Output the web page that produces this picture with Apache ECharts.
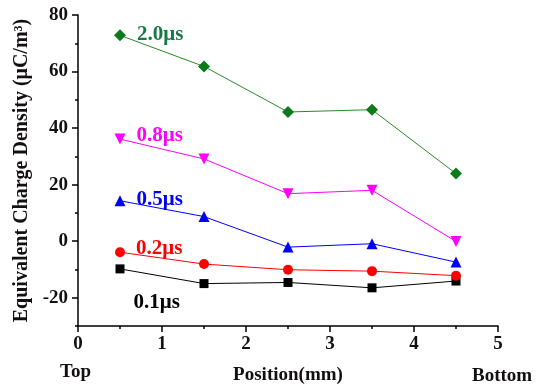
<!DOCTYPE html>
<html><head><meta charset="utf-8">
<script src="https://cdn.jsdelivr.net/npm/echarts@6/dist/echarts.min.js"></script>
<style>html,body{margin:0;padding:0;background:#fff}#c{width:547px;height:390px}</style>
</head><body><div id="c"></div>
<script>
const positions = [0.5, 1.5, 2.5, 3.5, 4.5];
const s01 = [-9.8, -15.0, -14.6, -16.5, -14.1];
const s02 = [-3.9, -8.1, -10.1, -10.6, -12.2];
const s05 = [14.3, 8.7, -2.1, -0.9, -7.4];
const s08 = [36.1, 29.1, 16.8, 18.0, -0.1];
const s20 = [72.8, 61.8, 45.7, 46.5, 23.9];
const seriesNames = ['0.1μs', '0.2μs', '0.5μs', '0.8μs', '2.0μs'];
const xTicks = [0, 1, 2, 3, 4, 5];
const yMajor = [-20, 0, 20, 40, 60, 80];
const yMinor = [-30, -10, 10, 30, 50, 70];

const FONT = '"Liberation Serif", "Times New Roman", serif';
const TXT = '#141010';

function mk(name, vals, lineColor, markColor, labelColor, symbol, size, off) {
  return {
    type: 'line', name: name, xAxisIndex: 0, yAxisIndex: 0,
    symbol: symbol, symbolSize: size,
    lineStyle: { color: lineColor, width: 1 },
    itemStyle: { color: markColor },
    emphasis: { disabled: true },
    data: vals.map((v, i) => i === 0 ? {
      value: [positions[i], v],
      label: { show: true, formatter: name, position: 'right', distance: 0, offset: off,
        color: labelColor, fontFamily: FONT, fontWeight: 'bold', fontSize: 21 }
    } : [positions[i], v])
  };
}

const chart = echarts.init(document.getElementById('c'), null, { renderer: 'canvas' });
chart.setOption({
  animation: false,
  backgroundColor: '#fff',
  grid: { left: 78, right: 49, top: 15, bottom: 62, containLabel: false },
  xAxis: {
    type: 'value', min: 0, max: 5, interval: 1,
    axisLine: { onZero: false, lineStyle: { color: '#000', width: 1.5 } },
    axisTick: { length: 6, lineStyle: { color: '#000', width: 1.5 } },
    minorTick: { show: true, splitNumber: 2, length: 3, lineStyle: { color: '#000', width: 1.5 } },
    splitLine: { show: false },
    axisLabel: { margin: 9, color: TXT, fontFamily: FONT, fontWeight: 'bold', fontSize: 19 },
    name: 'Position(mm)', nameLocation: 'middle', nameGap: 40,
    nameTextStyle: { color: TXT, fontFamily: FONT, fontWeight: 'bold', fontSize: 19 }
  },
  yAxis: [{
    type: 'value', min: -30, max: 80, position: 'left',
    axisLine: { show: true, onZero: false, lineStyle: { color: '#000', width: 1.5 } },
    axisTick: { show: true, length: 6, customValues: yMajor, lineStyle: { color: '#000', width: 1.5 } },
    splitLine: { show: false },
    axisLabel: { margin: 10, customValues: yMajor, color: TXT, fontFamily: FONT, fontWeight: 'bold', fontSize: 19 },
    name: 'Equivalent Charge Density (μC/m³)', nameLocation: 'middle', nameGap: 40, nameRotate: 90,
    nameTextStyle: { color: TXT, fontFamily: FONT, fontWeight: 'bold', fontSize: 20 }
  }, {
    type: 'value', min: -30, max: 80, position: 'left', offset: 0,
    axisLine: { show: false, onZero: false },
    axisTick: { show: true, length: 3, customValues: yMinor, lineStyle: { color: '#000', width: 1.5 } },
    splitLine: { show: false },
    axisLabel: { show: false }
  }],
  graphic: [
    { type: 'text', left: 60, top: 363, style: { text: 'Top', fill: TXT, font: 'bold 19px ' + FONT } },
    { type: 'text', left: 472, top: 367, style: { text: 'Bottom', fill: TXT, font: 'bold 19px ' + FONT } }
  ],
  series: [
    mk(seriesNames[0], s01, '#000000', '#000000', '#000000', 'rect', 9, [9, 34]),
    mk(seriesNames[1], s02, '#ff0000', '#ff0000', '#ff0000', 'circle', 10, [11, -4]),
    mk(seriesNames[2], s05, '#0000ff', '#0000ff', '#0000ff', 'triangle', 11, [11, -1]),
    mk(seriesNames[3], s08, '#ff00ff', '#ff00ff', '#ff00ff', 'path://M0,0 L10,0 L5,9 Z', 11, [11, -4]),
    mk(seriesNames[4], s20, '#2a8a2a', '#0a7a1a', '#167a46', 'diamond', 12, [11, -1])
  ]
});
</script></body></html>
